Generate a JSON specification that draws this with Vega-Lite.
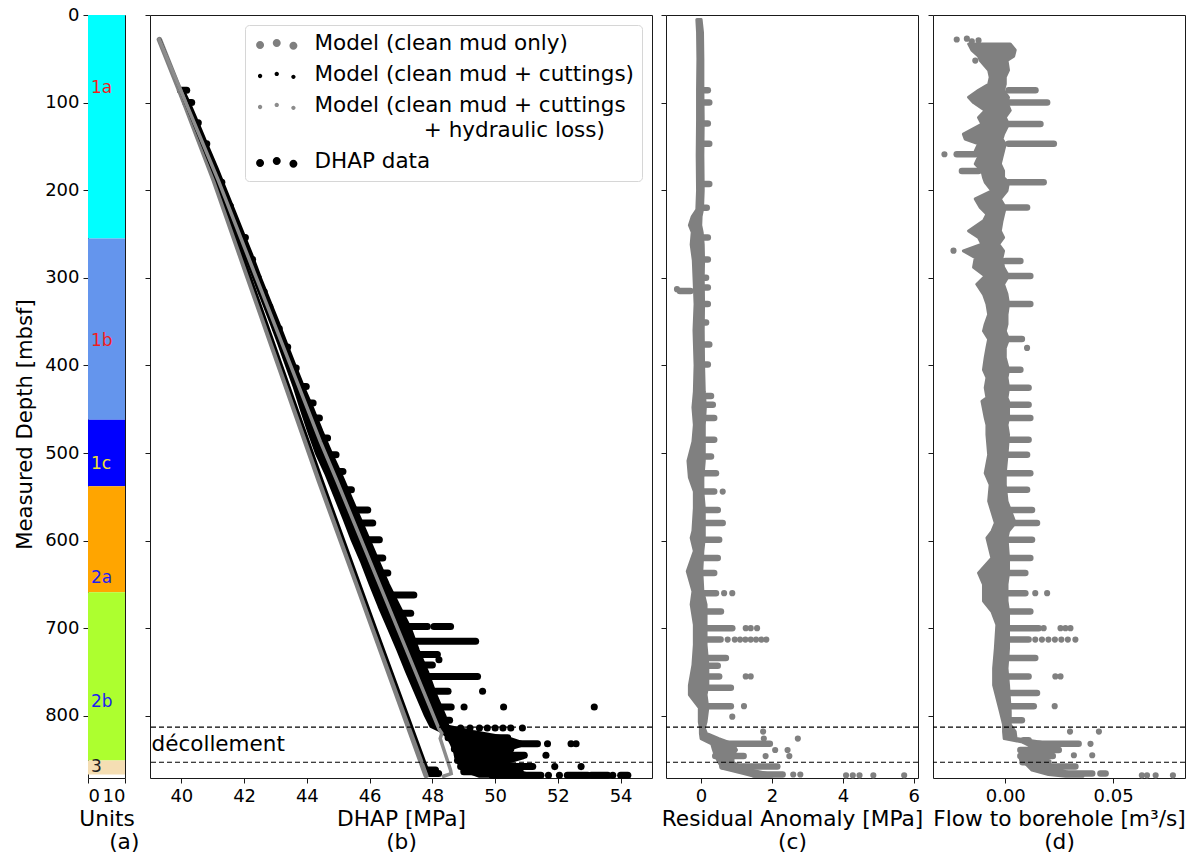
{
"$schema": "https://vega.github.io/schema/vega-lite/v6.json",
"padding": {"left": 14, "top": 5, "right": 0, "bottom": 2},
"config": {
  "font": "DejaVu Sans",
  "view": {"stroke": "#1a1a1a", "strokeWidth": 1},
  "axis": {"grid": false, "domain": false, "tickColor": "#1a1a1a", "tickSize": 5, "labelFontSize": 18, "labelColor": "black", "titleFontSize": 21.7, "titleFontWeight": "normal", "titleColor": "black", "labelPadding": 4, "titlePadding": 3, "titleLineHeight": 23}
},
"datasets": {
  "units": [{"unit":"1a","top":0,"bottom":255},{"unit":"1b","top":255,"bottom":462},{"unit":"1c","top":462,"bottom":538},{"unit":"2a","top":538,"bottom":659},{"unit":"2b","top":659,"bottom":851},{"unit":"3","top":851,"bottom":867}],
  "unitlabels": [{"unit":"1a","d":83},{"unit":"1b","d":372},{"unit":"1c","d":513},{"unit":"2a","d":643},{"unit":"2b","d":784},{"unit":"3","d":859}],
  "decol": [{"d":813},{"d":853}],
  "b_band": [{"d":85,"lo":39.92,"hi":40.05},{"d":100,"lo":40.08,"hi":40.25},{"d":125,"lo":40.37,"hi":40.55},{"d":150,"lo":40.66,"hi":40.84},{"d":175,"lo":40.96,"hi":41.14},{"d":200,"lo":41.23,"hi":41.42},{"d":225,"lo":41.5,"hi":41.7},{"d":250,"lo":41.77,"hi":41.98},{"d":275,"lo":42.04,"hi":42.26},{"d":300,"lo":42.3,"hi":42.52},{"d":325,"lo":42.57,"hi":42.8},{"d":350,"lo":42.84,"hi":43.08},{"d":375,"lo":43.1,"hi":43.35},{"d":400,"lo":43.35,"hi":43.62},{"d":425,"lo":43.6,"hi":43.9},{"d":450,"lo":43.82,"hi":44.2},{"d":475,"lo":44.05,"hi":44.48},{"d":500,"lo":44.3,"hi":44.78},{"d":525,"lo":44.62,"hi":45.1},{"d":550,"lo":44.9,"hi":45.4},{"d":575,"lo":45.18,"hi":45.7},{"d":600,"lo":45.45,"hi":46.0},{"d":625,"lo":45.75,"hi":46.3},{"d":650,"lo":46.02,"hi":46.6},{"d":675,"lo":46.3,"hi":46.95},{"d":700,"lo":46.6,"hi":47.3},{"d":725,"lo":46.9,"hi":47.55},{"d":750,"lo":47.18,"hi":47.85},{"d":775,"lo":47.48,"hi":48.1},{"d":800,"lo":47.78,"hi":48.4},{"d":812,"lo":47.95,"hi":48.5},{"d":818,"lo":48.3,"hi":49.3},{"d":825,"lo":48.5,"hi":50.4},{"d":832,"lo":48.6,"hi":51.0},{"d":840,"lo":48.7,"hi":50.3},{"d":848,"lo":48.75,"hi":50.9},{"d":855,"lo":48.85,"hi":50.2},{"d":862,"lo":48.95,"hi":50.6},{"d":869,"lo":49.5,"hi":51.3}],
  "b_streaks": [{"d":86,"lo":39.97,"hi":40.17},{"d":100,"lo":40.14,"hi":40.33},{"d":123,"lo":40.4,"hi":40.54},{"d":147,"lo":40.7,"hi":40.81},{"d":191,"lo":41.2,"hi":41.29},{"d":218,"lo":41.5,"hi":41.56},{"d":254,"lo":41.9,"hi":42.04},{"d":279,"lo":42.15,"hi":42.27},{"d":300,"lo":42.39,"hi":42.45},{"d":316,"lo":42.55,"hi":42.64},{"d":333,"lo":42.75,"hi":42.82},{"d":358,"lo":43.0,"hi":43.12},{"d":379,"lo":43.25,"hi":43.39},{"d":403,"lo":43.5,"hi":43.66},{"d":424,"lo":43.74,"hi":43.98},{"d":443,"lo":43.95,"hi":44.2},{"d":460,"lo":44.1,"hi":44.4},{"d":483,"lo":44.35,"hi":44.66},{"d":502,"lo":44.6,"hi":44.93},{"d":521,"lo":44.85,"hi":45.15},{"d":542,"lo":45.05,"hi":45.42},{"d":565,"lo":45.35,"hi":45.94},{"d":580,"lo":45.5,"hi":46.1},{"d":599,"lo":45.75,"hi":46.31},{"d":620,"lo":46.0,"hi":46.42},{"d":637,"lo":46.15,"hi":46.58},{"d":662,"lo":46.4,"hi":47.41},{"d":683,"lo":46.7,"hi":47.31},{"d":698,"lo":46.85,"hi":47.84},{"d":698,"lo":48.05,"hi":48.58},{"d":715,"lo":47.05,"hi":49.38},{"d":730,"lo":47.2,"hi":48.16},{"d":742,"lo":47.3,"hi":48.0},{"d":755,"lo":47.5,"hi":49.44},{"d":772,"lo":47.7,"hi":48.5},{"d":790,"lo":47.9,"hi":48.6},{"d":805,"lo":48.05,"hi":48.55},{"d":825,"lo":48.5,"hi":50.4},{"d":832,"lo":48.7,"hi":51.35},{"d":838,"lo":48.7,"hi":50.5},{"d":845,"lo":48.8,"hi":50.93},{"d":851,"lo":48.8,"hi":50.2},{"d":858,"lo":48.9,"hi":51.2},{"d":864,"lo":49.0,"hi":50.8},{"d":868,"lo":49.9,"hi":51.46},{"d":868,"lo":52.3,"hi":52.95},{"d":868,"lo":53.06,"hi":53.59},{"d":868,"lo":54.0,"hi":54.23},{"d":862,"lo":47.85,"hi":48.1},{"d":866,"lo":47.9,"hi":48.2}],
  "b_points": [{"d":736,"v":48.21},{"d":772,"v":49.6},{"d":790,"v":49.01},{"d":790,"v":50.27},{"d":790,"v":53.16},{"d":814,"v":48.9},{"d":814,"v":49.2},{"d":814,"v":49.5},{"d":814,"v":49.75},{"d":814,"v":50.0},{"d":814,"v":50.25},{"d":814,"v":50.5},{"d":814,"v":50.87},{"d":832,"v":51.67},{"d":832,"v":52.42},{"d":832,"v":52.58},{"d":845,"v":51.62},{"d":858,"v":51.9},{"d":858,"v":52.74},{"d":868,"v":51.7},{"d":868,"v":52.05},{"d":868,"v":53.75}],
  "m_clean": [{"d":28,"v":39.3},{"d":100,"v":40.1},{"d":189,"v":41.05},{"d":300,"v":42.13},{"d":400,"v":43.11},{"d":532,"v":44.4},{"d":650,"v":45.6},{"d":750,"v":46.61},{"d":868,"v":47.8}],
  "m_cut": [{"d":28,"v":39.32},{"d":189,"v":41.12},{"d":400,"v":43.2},{"d":532,"v":44.5},{"d":700,"v":46.2},{"d":868,"v":47.92}],
  "m_hyd": [{"d":28,"v":39.3},{"d":189,"v":41.18},{"d":487,"v":44.43},{"d":532,"v":44.96},{"d":815,"v":48.21},{"d":820,"v":48.3},{"d":826,"v":48.25},{"d":862,"v":48.58},{"d":866,"v":48.6},{"d":869,"v":48.35}],
  "c_band": [{"d":5,"lo":-0.12,"hi":0.0},{"d":20,"lo":-0.1,"hi":0.04},{"d":50,"lo":-0.09,"hi":0.05},{"d":85,"lo":-0.1,"hi":0.05},{"d":120,"lo":-0.1,"hi":0.06},{"d":160,"lo":-0.11,"hi":0.05},{"d":200,"lo":-0.1,"hi":0.06},{"d":222,"lo":-0.12,"hi":0.04},{"d":230,"lo":-0.25,"hi":0.0},{"d":240,"lo":-0.33,"hi":-0.01},{"d":248,"lo":-0.25,"hi":0.03},{"d":262,"lo":-0.28,"hi":0.06},{"d":280,"lo":-0.22,"hi":0.07},{"d":300,"lo":-0.2,"hi":0.06},{"d":330,"lo":-0.17,"hi":0.07},{"d":360,"lo":-0.2,"hi":0.06},{"d":400,"lo":-0.17,"hi":0.07},{"d":430,"lo":-0.19,"hi":0.09},{"d":448,"lo":-0.23,"hi":0.12},{"d":468,"lo":-0.19,"hi":0.09},{"d":487,"lo":-0.23,"hi":0.09},{"d":509,"lo":-0.37,"hi":0.09},{"d":528,"lo":-0.33,"hi":0.05},{"d":544,"lo":-0.19,"hi":0.05},{"d":563,"lo":-0.19,"hi":0.09},{"d":589,"lo":-0.23,"hi":0.09},{"d":597,"lo":-0.28,"hi":0.09},{"d":612,"lo":-0.19,"hi":0.05},{"d":635,"lo":-0.39,"hi":0.02},{"d":658,"lo":-0.23,"hi":0.05},{"d":673,"lo":-0.28,"hi":0.14},{"d":696,"lo":-0.19,"hi":0.14},{"d":719,"lo":-0.19,"hi":0.14},{"d":742,"lo":-0.23,"hi":0.19},{"d":765,"lo":-0.33,"hi":0.19},{"d":776,"lo":-0.33,"hi":0.14},{"d":791,"lo":-0.05,"hi":0.19},{"d":807,"lo":-0.05,"hi":0.14},{"d":814,"lo":-0.02,"hi":0.09},{"d":820,"lo":-0.02,"hi":0.15},{"d":826,"lo":0.0,"hi":0.5},{"d":832,"lo":0.3,"hi":0.9},{"d":839,"lo":0.35,"hi":1.0},{"d":845,"lo":0.4,"hi":0.9},{"d":853,"lo":0.5,"hi":0.9},{"d":860,"lo":0.6,"hi":1.2},{"d":866,"lo":1.2,"hi":1.9},{"d":869,"lo":1.5,"hi":2.0}],
  "c_streaks": [{"d":86,"lo":0,"hi":0.19},{"d":100,"lo":0,"hi":0.23},{"d":124,"lo":0,"hi":0.19},{"d":147,"lo":0,"hi":0.23},{"d":193,"lo":0,"hi":0.23},{"d":220,"lo":0,"hi":0.16},{"d":254,"lo":0,"hi":0.19},{"d":279,"lo":0,"hi":0.19},{"d":300,"lo":0,"hi":0.14},{"d":311,"lo":0,"hi":0.19},{"d":315,"lo":-0.6,"hi":-0.3},{"d":330,"lo":0,"hi":0.19},{"d":351,"lo":0,"hi":0.14},{"d":376,"lo":0,"hi":0.23},{"d":399,"lo":0,"hi":0.19},{"d":435,"lo":0,"hi":0.28},{"d":445,"lo":0,"hi":0.33},{"d":460,"lo":0,"hi":0.37},{"d":485,"lo":0,"hi":0.37},{"d":504,"lo":0,"hi":0.28},{"d":523,"lo":0,"hi":0.42},{"d":544,"lo":0,"hi":0.37},{"d":565,"lo":0,"hi":0.47},{"d":580,"lo":0,"hi":0.61},{"d":599,"lo":0,"hi":0.51},{"d":620,"lo":0,"hi":0.47},{"d":637,"lo":0,"hi":0.37},{"d":660,"lo":0,"hi":0.42},{"d":681,"lo":0,"hi":0.56},{"d":700,"lo":0,"hi":0.88},{"d":713,"lo":0.05,"hi":0.55},{"d":734,"lo":0,"hi":0.7},{"d":743,"lo":0,"hi":0.47},{"d":755,"lo":0,"hi":0.51},{"d":768,"lo":0,"hi":0.84},{"d":789,"lo":0,"hi":0.84},{"d":832,"lo":0.4,"hi":1.94},{"d":846,"lo":0.4,"hi":1.2},{"d":858,"lo":0.6,"hi":2.15},{"d":867,"lo":1.5,"hi":2.3}],
  "c_points": [{"d":313,"v":-0.68},{"d":544,"v":0.61},{"d":660,"v":0.65},{"d":660,"v":0.88},{"d":700,"v":1.26},{"d":700,"v":1.4},{"d":700,"v":1.58},{"d":713,"v":0.75},{"d":713,"v":0.95},{"d":713,"v":1.1},{"d":713,"v":1.25},{"d":713,"v":1.4},{"d":713,"v":1.55},{"d":713,"v":1.7},{"d":713,"v":1.84},{"d":755,"v":1.26},{"d":755,"v":1.4},{"d":789,"v":1.21},{"d":801,"v":0.88},{"d":818,"v":1.75},{"d":826,"v":1.77},{"d":826,"v":2.73},{"d":839,"v":2.09},{"d":839,"v":2.44},{"d":846,"v":1.82},{"d":846,"v":2.49},{"d":867,"v":2.6},{"d":867,"v":2.8},{"d":868,"v":4.09},{"d":868,"v":4.28},{"d":868,"v":4.47},{"d":868,"v":4.86},{"d":868,"v":5.73}],
  "d_band": [{"d":33,"lo":-0.017,"hi":0.0023},{"d":40,"lo":-0.0155,"hi":0.0046},{"d":47,"lo":-0.0124,"hi":0.0039},{"d":52,"lo":-0.0116,"hi":0.0008},{"d":63,"lo":-0.0077,"hi":0.0015},{"d":71,"lo":-0.007,"hi":0.0},{"d":79,"lo":-0.0077,"hi":0.0},{"d":86,"lo":-0.0124,"hi":-0.0008},{"d":94,"lo":-0.017,"hi":0.0015},{"d":100,"lo":-0.0147,"hi":0.0008},{"d":109,"lo":-0.0093,"hi":0.0023},{"d":117,"lo":-0.0124,"hi":0.0},{"d":124.5,"lo":-0.0108,"hi":0.0015},{"d":136,"lo":-0.0194,"hi":-0.0008},{"d":141.6,"lo":-0.0186,"hi":-0.0015},{"d":147,"lo":-0.0124,"hi":0.0},{"d":155,"lo":-0.0139,"hi":-0.0008},{"d":162,"lo":-0.0124,"hi":-0.0015},{"d":170,"lo":-0.0139,"hi":-0.0023},{"d":178,"lo":-0.0108,"hi":-0.0008},{"d":185.5,"lo":-0.0101,"hi":-0.0008},{"d":191,"lo":-0.0093,"hi":0.0015},{"d":200.7,"lo":-0.0062,"hi":0.0008},{"d":210,"lo":-0.0139,"hi":-0.0023},{"d":219.8,"lo":-0.0116,"hi":0.0},{"d":227.5,"lo":-0.0085,"hi":-0.0008},{"d":235,"lo":-0.0101,"hi":-0.0015},{"d":246.5,"lo":-0.017,"hi":-0.0023},{"d":254,"lo":-0.0124,"hi":-0.0008},{"d":261.7,"lo":-0.0108,"hi":-0.0031},{"d":269.3,"lo":-0.0194,"hi":-0.0008},{"d":277,"lo":-0.0139,"hi":-0.0015},{"d":288,"lo":-0.0147,"hi":-0.0008},{"d":298,"lo":-0.0093,"hi":0.0015},{"d":307.4,"lo":-0.0132,"hi":-0.0008},{"d":318.9,"lo":-0.0101,"hi":0.0008},{"d":330,"lo":-0.0085,"hi":0.0015},{"d":341.8,"lo":-0.0077,"hi":0.0008},{"d":353,"lo":-0.0093,"hi":0.0008},{"d":360.8,"lo":-0.0101,"hi":0.0},{"d":370,"lo":-0.0077,"hi":0.0015},{"d":380,"lo":-0.0085,"hi":0.0},{"d":391,"lo":-0.0093,"hi":0.0},{"d":405,"lo":-0.0101,"hi":0.0015},{"d":414,"lo":-0.0085,"hi":0.0008},{"d":425.5,"lo":-0.0093,"hi":0.0015},{"d":437,"lo":-0.0085,"hi":0.0008},{"d":441,"lo":-0.0108,"hi":0.0015},{"d":460,"lo":-0.0093,"hi":0.0015},{"d":468,"lo":-0.0085,"hi":0.0008},{"d":479,"lo":-0.0085,"hi":0.0015},{"d":502,"lo":-0.0077,"hi":0.0008},{"d":523,"lo":-0.0093,"hi":0.0},{"d":536,"lo":-0.007,"hi":0.0},{"d":555,"lo":-0.0077,"hi":0.0008},{"d":580,"lo":-0.0046,"hi":0.0046},{"d":589.5,"lo":-0.0062,"hi":0.0015},{"d":597,"lo":-0.0085,"hi":0.0008},{"d":620,"lo":-0.0062,"hi":0.0015},{"d":637,"lo":-0.0124,"hi":0.0015},{"d":650,"lo":-0.0101,"hi":0.0008},{"d":669,"lo":-0.0101,"hi":0.0008},{"d":681,"lo":-0.0062,"hi":0.0015},{"d":696,"lo":-0.0039,"hi":0.0015},{"d":723,"lo":-0.0046,"hi":0.0015},{"d":746,"lo":-0.0054,"hi":0.0008},{"d":765,"lo":-0.0054,"hi":0.0015},{"d":795,"lo":-0.0023,"hi":0.0023},{"d":810,"lo":-0.0008,"hi":0.0023},{"d":818,"lo":-0.0008,"hi":0.0046},{"d":826,"lo":-0.0005,"hi":0.005},{"d":830,"lo":0.008,"hi":0.016},{"d":835,"lo":0.012,"hi":0.025},{"d":842,"lo":0.007,"hi":0.022},{"d":850,"lo":0.007,"hi":0.018},{"d":856,"lo":0.01,"hi":0.02},{"d":862,"lo":0.0124,"hi":0.026},{"d":867,"lo":0.02,"hi":0.032},{"d":869,"lo":0.028,"hi":0.036}],
  "d_streaks": [{"d":86,"lo":0.0015,"hi":0.014},{"d":100,"lo":0.0015,"hi":0.0194},{"d":124.5,"lo":0.0015,"hi":0.0163},{"d":147,"lo":0.0015,"hi":0.0225},{"d":159,"lo":-0.0225,"hi":-0.0139},{"d":178,"lo":-0.0201,"hi":-0.0124},{"d":191,"lo":0.0015,"hi":0.0178},{"d":219.8,"lo":0.0,"hi":0.0101},{"d":280.7,"lo":0.0,"hi":0.007},{"d":298,"lo":0.0,"hi":0.0116},{"d":330,"lo":0.0,"hi":0.0116},{"d":370,"lo":0.0,"hi":0.0077},{"d":405,"lo":0.0,"hi":0.007},{"d":425.5,"lo":0.0,"hi":0.0108},{"d":445,"lo":0.0,"hi":0.0108},{"d":460,"lo":0.0,"hi":0.0116},{"d":485,"lo":0.0,"hi":0.0108},{"d":502,"lo":0.0,"hi":0.0101},{"d":523,"lo":0.0,"hi":0.0116},{"d":542,"lo":0.0,"hi":0.0101},{"d":565,"lo":0.0,"hi":0.0124},{"d":580,"lo":0.0,"hi":0.0147},{"d":599,"lo":0.0,"hi":0.0124},{"d":620,"lo":0.0,"hi":0.0116},{"d":637,"lo":0.0,"hi":0.0093},{"d":660,"lo":0.0,"hi":0.0093},{"d":681,"lo":0.0,"hi":0.0116},{"d":700,"lo":0.0,"hi":0.0155},{"d":713,"lo":0.0015,"hi":0.0108},{"d":734,"lo":0.0,"hi":0.0139},{"d":755,"lo":0.0,"hi":0.0108},{"d":774,"lo":0.0,"hi":0.0147},{"d":789,"lo":0.0,"hi":0.0132},{"d":805,"lo":0.0,"hi":0.0077},{"d":828,"lo":0.0085,"hi":0.0108},{"d":832,"lo":0.0155,"hi":0.034},{"d":839,"lo":0.007,"hi":0.0248},{"d":846,"lo":0.007,"hi":0.022},{"d":853,"lo":0.008,"hi":0.02},{"d":858,"lo":0.0124,"hi":0.0325},{"d":866,"lo":0.0287,"hi":0.0403},{"d":866,"lo":0.0441,"hi":0.0465}],
  "d_points": [{"d":28,"v":-0.0225},{"d":27,"v":-0.0178},{"d":30,"v":-0.0155},{"d":29,"v":-0.0124},{"d":52,"v":-0.0139},{"d":159,"v":-0.0282},{"d":269,"v":-0.024},{"d":380,"v":0.0101},{"d":660,"v":0.0139},{"d":660,"v":0.0194},{"d":700,"v":0.0178},{"d":700,"v":0.0256},{"d":700,"v":0.0279},{"d":700,"v":0.0302},{"d":713,"v":0.0139},{"d":713,"v":0.017},{"d":713,"v":0.02},{"d":713,"v":0.023},{"d":713,"v":0.026},{"d":713,"v":0.029},{"d":713,"v":0.0325},{"d":755,"v":0.0232},{"d":755,"v":0.0256},{"d":789,"v":0.0229},{"d":818,"v":0.03},{"d":818,"v":0.0434},{"d":832,"v":0.0395},{"d":845,"v":0.0318},{"d":845,"v":0.0403},{"d":868,"v":0.0633},{"d":868,"v":0.0657},{"d":868,"v":0.0697},{"d":868,"v":0.0777}]
},
"spacing": 25,
"bounds": "flush",
"resolve": {"scale": {"color": "independent"}, "legend": {"color": "independent"}},
"hconcat": [
  {
    "width": 37, "height": 763,
    "resolve": {"scale": {"color": "independent"}, "legend": {"color": "independent"}},
    "layer": [
      {"data": {"name": "units"}, "mark": {"type": "rect"},
       "encoding": {
         "y": {"field": "top", "type": "quantitative", "scale": {"domain": [0, 871], "reverse": true, "nice": false, "zero": false}, "axis": {"title": "Measured Depth [mbsf]", "titleFontSize": 21.2, "titleY": 409, "values": [0,100,200,300,400,500,600,700,800], "format": "d", "titlePadding": 9}},
         "y2": {"field": "bottom"},
         "x": {"datum": 0, "type": "quantitative", "scale": {"domain": [0, 10], "nice": false, "zero": false}, "axis": {"values": [0, 10], "format": "d", "title": ["Units", "\u200b\u00a0\u00a0\u00a0\u00a0\u00a0(a)"]}},
         "x2": {"datum": 10},
         "color": {"field": "unit", "type": "nominal", "scale": {"domain": ["1a","1b","1c","2a","2b","3"], "range": ["#00ffff","#6495ed","#0000ff","#ffa500","#adff2f","#f5deb3"]}, "legend": null}
       }},
      {"data": {"name": "unitlabels"}, "mark": {"type": "text", "align": "left", "baseline": "middle", "fontSize": 17},
       "encoding": {
         "y": {"field": "d", "type": "quantitative"},
         "x": {"datum": 0.8, "type": "quantitative"},
         "text": {"field": "unit"},
         "color": {"field": "unit", "type": "nominal", "scale": {"domain": ["1a","1b","1c","2a","2b","3"], "range": ["#f01e1e","#f01e1e","#f0e030","#1e1ef0","#1e1ef0","#202020"]}, "legend": null}
       }}
    ]
  },
  {
    "spacing": 14,
    "bounds": "flush",
    "resolve": {"scale": {"color": "independent"}, "legend": {"color": "independent"}},
    "hconcat": [
      {
        "width": 502, "height": 763,
        "layer": [
          {"data": {"name": "b_band"}, "mark": {"type": "area", "orient": "horizontal", "color": "black", "stroke": "black", "strokeWidth": 3, "strokeJoin": "round"},
           "encoding": {
             "y": {"field": "d", "type": "quantitative", "scale": {"domain": [0, 871], "reverse": true, "nice": false, "zero": false}, "axis": {"title": null, "labels": false, "values": [0,100,200,300,400,500,600,700,800]}},
             "x": {"field": "lo", "type": "quantitative", "scale": {"domain": [39, 55], "nice": false, "zero": false}, "axis": {"values": [40,42,44,46,48,50,52,54], "format": "d", "title": ["DHAP [MPa]", "(b)"]}},
             "x2": {"field": "hi"}
           }},
          {"data": {"name": "b_streaks"}, "mark": {"type": "rule", "color": "black", "strokeWidth": 7, "strokeCap": "round"},
           "encoding": {"y": {"field": "d", "type": "quantitative"}, "x": {"field": "lo", "type": "quantitative"}, "x2": {"field": "hi"}}},
          {"data": {"name": "m_clean"}, "mark": {"type": "line", "color": "#7f7f7f", "strokeWidth": 5.5, "strokeCap": "round"},
           "encoding": {"y": {"field": "d", "type": "quantitative"}, "x": {"field": "v", "type": "quantitative"}, "order": {"field": "d", "type": "quantitative"}}},
          {"data": {"name": "m_cut"}, "mark": {"type": "line", "color": "black", "strokeWidth": 2.5, "strokeCap": "round"},
           "encoding": {"y": {"field": "d", "type": "quantitative"}, "x": {"field": "v", "type": "quantitative"}, "order": {"field": "d", "type": "quantitative"}}},
          {"data": {"name": "m_hyd"}, "mark": {"type": "line", "color": "#8c8c8c", "strokeWidth": 3.5, "strokeCap": "round"},
           "encoding": {"y": {"field": "d", "type": "quantitative"}, "x": {"field": "v", "type": "quantitative"}, "order": {"field": "d", "type": "quantitative"}}},
          {"data": {"name": "b_points"}, "mark": {"type": "circle", "size": 50, "opacity": 1},
           "encoding": {
             "y": {"field": "d", "type": "quantitative"},
             "x": {"field": "v", "type": "quantitative"},
             "color": {"datum": "DHAP data", "type": "nominal",
               "scale": {"domain": ["Model (clean mud only)", "Model (clean mud + cuttings)", "Model (clean mud + cuttings + hydraulic loss)", "DHAP data"], "range": ["#7f7f7f", "black", "#8c8c8c", "black"]},
               "legend": {
                 "title": null, "orient": "top-right", "offset": 10, "padding": 8,
                 "strokeColor": "#d6d6d6", "fillColor": "white", "cornerRadius": 4,
                 "labelFontSize": 21.5, "labelColor": "black", "labelLimit": 460,
                 "symbolSize": 278, "symbolOffset": 13, "labelOffset": 27, "rowPadding": 8,
                 "symbolStrokeWidth": 0, "symbolOpacity": 1,
                 "labelExpr": "datum.label == 'Model (clean mud + cuttings + hydraulic loss)' ? ['Model (clean mud + cuttings', '\u200b\u00a0\u00a0\u00a0\u00a0\u00a0\u00a0\u00a0\u00a0\u00a0\u00a0\u00a0\u00a0\u00a0\u00a0\u00a0\u00a0+ hydraulic loss)'] : datum.label",
                 "encode": {
                   "labels": {"update": {"lineHeight": {"value": 25}}},
                   "symbols": {"update": {"shape": {"signal": "(datum.value == 'Model (clean mud only)' || datum.value == 'DHAP data') ? 'M-2.48,0.15a0.48,0.48 0 1,0 0.96,0a0.48,0.48 0 1,0 -0.96,0ZM-0.48,-0.1a0.48,0.48 0 1,0 0.96,0a0.48,0.48 0 1,0 -0.96,0ZM1.52,0.25a0.48,0.48 0 1,0 0.96,0a0.48,0.48 0 1,0 -0.96,0Z' : 'M-2.26,0.15a0.26,0.26 0 1,0 0.52,0a0.26,0.26 0 1,0 -0.52,0ZM-0.26,-0.1a0.26,0.26 0 1,0 0.52,0a0.26,0.26 0 1,0 -0.52,0ZM1.74,0.25a0.26,0.26 0 1,0 0.52,0a0.26,0.26 0 1,0 -0.52,0Z'"}}}}
               }}
           }},
          {"data": {"name": "decol"}, "mark": {"type": "rule", "color": "black", "strokeWidth": 1.2, "strokeDash": [5, 3]},
           "encoding": {"y": {"field": "d", "type": "quantitative"}}},
          {"data": {"values": [{"label": "décollement", "d": 833}]}, "mark": {"type": "text", "align": "left", "baseline": "middle", "fontSize": 21.5, "color": "black"},
           "encoding": {"y": {"field": "d", "type": "quantitative"}, "x": {"datum": 39.05, "type": "quantitative"}, "text": {"field": "label"}}}
        ]
      },
      {
        "spacing": 15,
        "bounds": "flush",
        "hconcat": [
          {
            "width": 252, "height": 763,
            "layer": [
              {"data": {"name": "c_band"}, "mark": {"type": "area", "orient": "horizontal", "color": "#808080", "stroke": "#808080", "strokeWidth": 3, "strokeJoin": "round"},
               "encoding": {
                 "y": {"field": "d", "type": "quantitative", "scale": {"domain": [0, 871], "reverse": true, "nice": false, "zero": false}, "axis": {"title": null, "labels": false, "values": [0,100,200,300,400,500,600,700,800]}},
                 "x": {"field": "lo", "type": "quantitative", "scale": {"domain": [-0.99, 6.12], "nice": false, "zero": false}, "axis": {"values": [0, 2, 4, 6], "format": "d", "title": ["Residual Anomaly [MPa]", "(c)"]}},
                 "x2": {"field": "hi"}
               }},
              {"data": {"name": "c_streaks"}, "mark": {"type": "rule", "color": "#808080", "strokeWidth": 6.5, "strokeCap": "round"},
               "encoding": {"y": {"field": "d", "type": "quantitative"}, "x": {"field": "lo", "type": "quantitative"}, "x2": {"field": "hi"}}},
              {"data": {"name": "c_points"}, "mark": {"type": "circle", "size": 38, "opacity": 1, "color": "#808080"},
               "encoding": {"y": {"field": "d", "type": "quantitative"}, "x": {"field": "v", "type": "quantitative"}}},
              {"mark": {"type": "rule", "color": "black", "strokeWidth": 2}, "encoding": {"x": {"datum": 0, "type": "quantitative"}}},
              {"data": {"name": "decol"}, "mark": {"type": "rule", "color": "black", "strokeWidth": 1.2, "strokeDash": [5, 3]},
               "encoding": {"y": {"field": "d", "type": "quantitative"}}}
            ]
          },
          {
            "width": 252, "height": 763,
            "layer": [
              {"data": {"name": "d_band"}, "mark": {"type": "area", "orient": "horizontal", "color": "#808080", "stroke": "#808080", "strokeWidth": 3, "strokeJoin": "round"},
               "encoding": {
                 "y": {"field": "d", "type": "quantitative", "scale": {"domain": [0, 871], "reverse": true, "nice": false, "zero": false}, "axis": {"title": null, "labels": false, "values": [0,100,200,300,400,500,600,700,800]}},
                 "x": {"field": "lo", "type": "quantitative", "scale": {"domain": [-0.0335, 0.0833], "nice": false, "zero": false}, "axis": {"values": [0, 0.05], "format": ".2f", "title": ["Flow to borehole [m³/s]", "(d)"]}},
                 "x2": {"field": "hi"}
               }},
              {"data": {"name": "d_streaks"}, "mark": {"type": "rule", "color": "#808080", "strokeWidth": 6.5, "strokeCap": "round"},
               "encoding": {"y": {"field": "d", "type": "quantitative"}, "x": {"field": "lo", "type": "quantitative"}, "x2": {"field": "hi"}}},
              {"data": {"name": "d_points"}, "mark": {"type": "circle", "size": 38, "opacity": 1, "color": "#808080"},
               "encoding": {"y": {"field": "d", "type": "quantitative"}, "x": {"field": "v", "type": "quantitative"}}},
              {"mark": {"type": "rule", "color": "black", "strokeWidth": 2}, "encoding": {"x": {"datum": 0, "type": "quantitative"}}},
              {"data": {"name": "decol"}, "mark": {"type": "rule", "color": "black", "strokeWidth": 1.2, "strokeDash": [5, 3]},
               "encoding": {"y": {"field": "d", "type": "quantitative"}}}
            ]
          }
        ]
      }
    ]
  }
]
}
